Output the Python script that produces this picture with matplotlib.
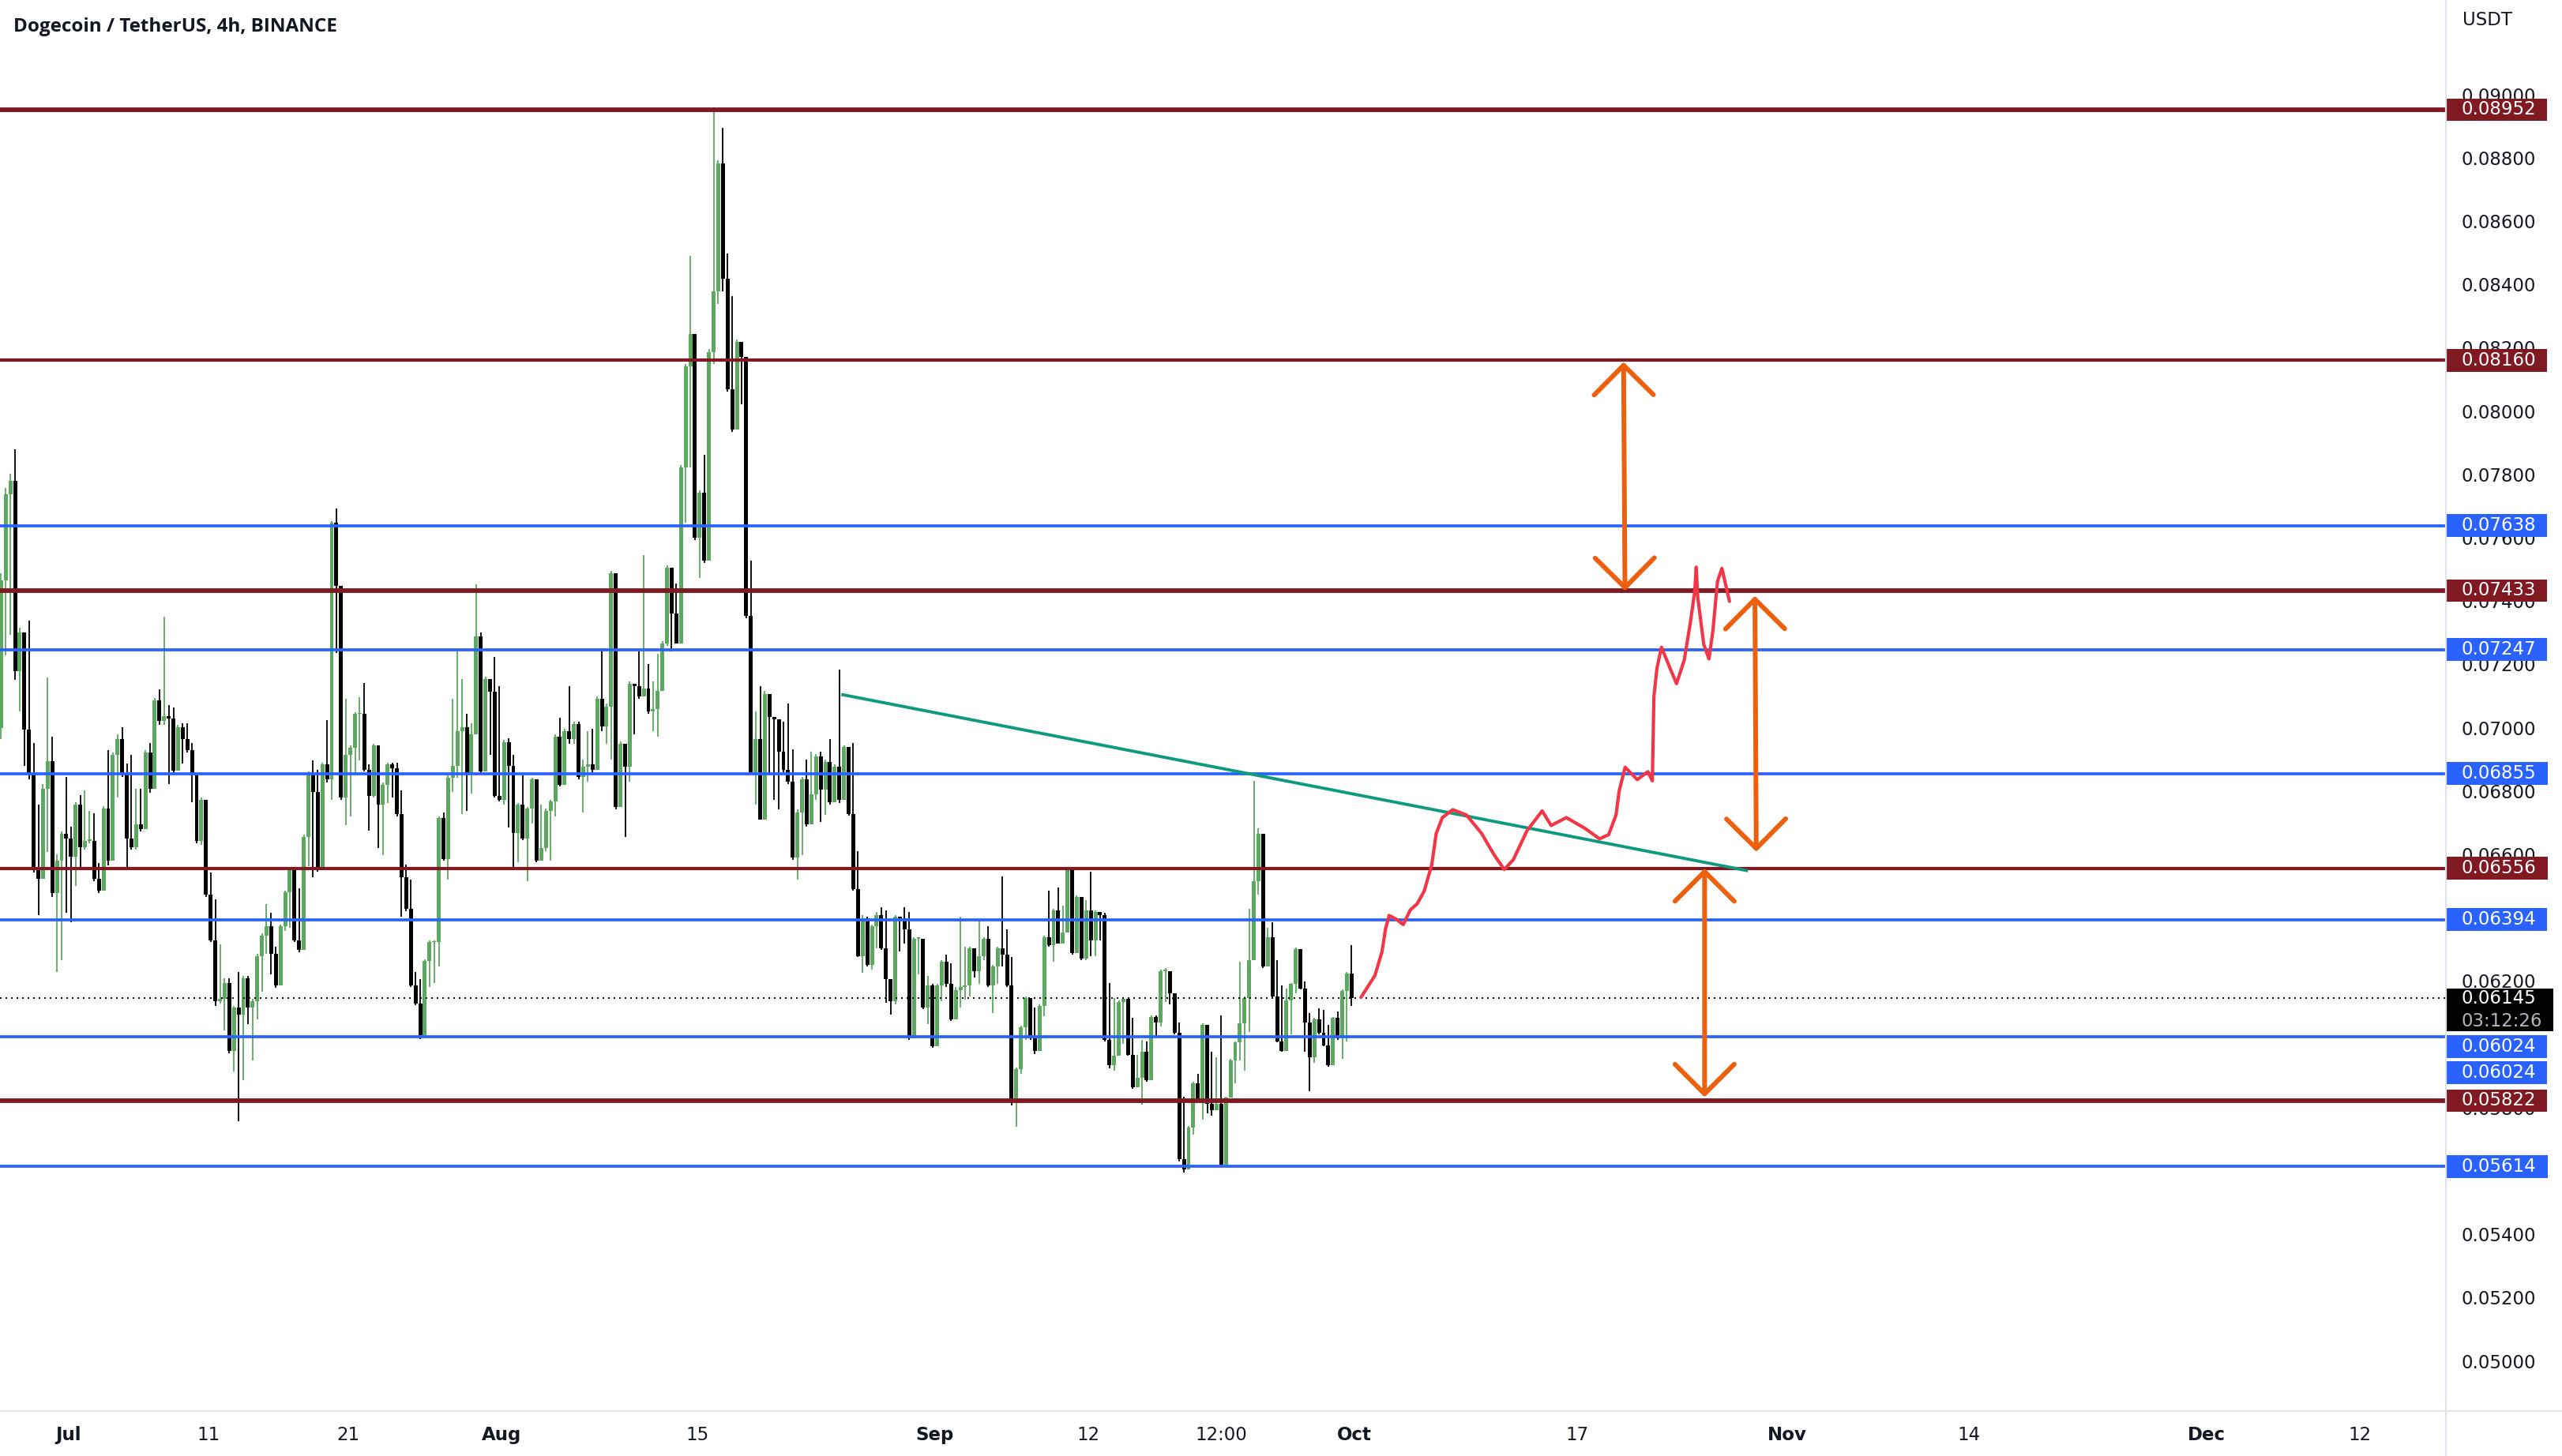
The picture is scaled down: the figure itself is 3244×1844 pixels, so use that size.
import numpy as np
import pandas as pd
import matplotlib
matplotlib.use("Agg")
import matplotlib.pyplot as plt
import matplotlib.transforms as mtransforms
from matplotlib.path import Path
from matplotlib.patches import FancyArrowPatch, ArrowStyle
from matplotlib.lines import Line2D

# DOGE/USDT bars (8h)
bar_start = "2022-06-26 04:00"
first_open = 0.07000
close = [
    .07465, .07737, .07780, .07179, .07301, .06994, .06851, .06558, .06522, .06808,
    .06894, .06479, .06579, .06665, .06651, .06593, .06758, .06622, .06643, .06643,
    .06522, .06486, .06744, .06579, .06915, .06965, .06851, .06651, .06622, .06694,
    .06679, .06922, .06808, .07086, .07022, .07036, .07029, .06865, .07001, .06965,
    .06929, .06851, .06643, .06772, .06472, .06329, .06136, .06143, .06193, .05979,
    .06115, .06093, .06208, .06115, .06136, .06279, .06343, .06372, .06286, .06186,
    .06372, .06480, .06550, .06328, .06298, .06656, .06855, .06797, .06550, .06885,
    .06838, .07647, .07447, .06779, .06914, .06937, .07043, .07043, .06867, .06785,
    .06943, .06756, .06820, .06885, .06873, .06726, .06527, .06427, .06187, .06128,
    .06029, .06263, .06322, .06322, .06714, .06586, .06843, .06879, .06990, .07002,
    .06855, .06978, .07289, .06861, .07154, .07113, .06785, .06773, .06955, .06879,
    .06668, .06756, .06650, .06744, .06838, .06580, .06621, .06738, .06767, .06972,
    .06820, .06990, .06964, .07011, .06844, .06876, .06884, .06868, .07091, .07003,
    .07067, .07488, .06749, .06948, .06876, .07139, .07131, .07099, .07123, .07051,
    .07059, .07115, .07266, .07504, .07361, .07266, .07822, .08140, .08243, .07600,
    .07742, .07528, .08187, .08378, .08783, .08418, .08068, .07941, .08219, .08172,
    .07353, .06860, .06964, .06709, .07107, .07035, .07027, .06924, .06868, .06829,
    .06590, .06733, .06836, .06694, .06789, .06908, .06805, .06892, .06765, .06876,
    .06771, .06938, .06727, .06491, .06279, .06397, .06250, .06373, .06407, .06304,
    .06206, .06137, .06402, .06397, .06363, .06019, .06333, .06333, .06117, .06186,
    .05995, .06186, .06260, .06191, .06078, .06171, .06181, .06186, .06304, .06230,
    .06279, .06333, .06186, .06245, .06304, .06284, .06186, .05818, .05921, .06053,
    .06147, .06019, .05980, .06122, .06338, .06314, .06422, .06319, .06353, .06550,
    .06289, .06466, .06270, .06422, .06329, .06417, .06407, .06015, .05933, .05963,
    .06134, .06143, .05967, .05865, .05895, .05976, .05886, .06087, .06070, .06232,
    .06232, .06160, .06036, .05638, .05604, .05736, .05877, .05822, .06061, .05813,
    .05792, .05813, .05621, .05831, .05950, .06006, .06066, .06147, .06267, .06515,
    .06664, .06245, .06339, .06151, .06010, .05980, .06138, .06190, .06301, .06177,
    .06070, .05959, .06079, .06036, .05997, .05933, .06083, .06019, .06168, .06224,
    .06145,
]
high = [
    .07487, .07758, .07801, .07880, .07315, .07287, .07337, .06951, .06758, .06822,
    .07158, .06972, .06601, .06672, .06844, .06686, .06765, .06786, .06801, .06736,
    .06729, .06572, .06751, .06929, .06922, .06979, .07001, .06886, .06915, .06808,
    .06808, .06929, .06951, .07094, .07122, .07351, .07072, .07065, .07008, .07015,
    .07015, .06951, .06844, .06779, .06729, .06543, .06458, .06315, .06208, .06208,
    .06122, .06229, .06215, .06215, .06143, .06286, .06351, .06443, .06415, .06308,
    .06379, .06486, .06556, .06474, .06492, .06662, .06861, .06896, .06867, .06890,
    .07025, .07652, .07693, .07389, .07090, .06943, .07049, .07096, .07142, .06885,
    .06949, .06920, .06826, .06890, .06890, .06890, .06803, .06568, .06521, .06228,
    .06205, .06269, .06328, .06328, .06720, .06732, .06849, .07090, .07242, .07154,
    .07043, .07013, .07453, .07301, .07160, .07119, .07224, .07131, .06961, .06967,
    .06914, .06761, .06849, .06750, .06843, .06820, .06756, .06744, .06773, .06978,
    .07031, .06996, .07131, .07019, .07019, .06900, .06988, .06996, .07099, .07250,
    .07075, .07496, .07329, .06956, .06900, .07147, .07139, .07242, .07544, .07202,
    .07147, .07234, .07274, .07512, .07377, .07456, .07830, .08148, .08489, .08203,
    .07750, .07862, .08195, .08958, .08791, .08895, .08497, .08362, .08227, .08180,
    .08140, .07528, .07051, .07131, .07115, .07059, .07035, .06972, .07019, .07075,
    .06932, .06741, .06844, .06900, .06924, .06916, .06924, .06900, .06964, .06884,
    .07183, .06943, .06938, .06952, .06609, .06407, .06402, .06378, .06417, .06432,
    .06422, .06191, .06407, .06402, .06432, .06417, .06338, .06338, .06329, .06216,
    .06191, .06191, .06265, .06284, .06255, .06181, .06402, .06309, .06309, .06304,
    .06392, .06338, .06373, .06250, .06309, .06530, .06363, .06275, .05926, .06058,
    .06152, .06132, .06117, .06127, .06343, .06486, .06427, .06496, .06437, .06555,
    .06530, .06471, .06466, .06456, .06545, .06422, .06412, .06416, .06194, .06147,
    .06138, .06147, .06121, .06083, .05967, .06014, .06010, .06091, .06091, .06237,
    .06241, .06224, .06138, .06070, .05835, .05741, .05882, .05907, .06066, .06040,
    .05976, .05959, .06091, .05835, .05955, .06010, .06262, .06151, .06429, .06831,
    .06682, .06626, .06369, .06386, .06267, .06185, .06177, .06194, .06305, .06297,
    .06198, .06100, .06083, .06113, .06108, .06061, .06087, .06104, .06173, .06228,
    .06314,
]
low = [
    .06965, .07229, .07294, .07151, .07051, .06879, .06836, .06543, .06408, .06543,
    .06608, .06465, .06229, .06265, .06415, .06386, .06501, .06558, .06615, .06636,
    .06515, .06479, .06536, .06565, .06601, .06779, .06844, .06551, .06615, .06615,
    .06672, .06686, .06794, .06822, .07008, .07008, .06822, .06858, .06886, .06886,
    .06922, .06765, .06636, .06629, .06465, .06322, .06122, .06129, .06043, .05972,
    .05915, .05757, .05886, .06065, .05950, .06079, .06165, .06286, .06222, .06179,
    .06201, .06357, .06369, .06322, .06292, .06304, .06562, .06527, .06544, .06580,
    .06826, .06773, .07236, .06773, .06691, .06720, .06849, .06896, .06861, .06674,
    .06779, .06621, .06597, .06761, .06779, .06720, .06404, .06421, .06181, .06123,
    .06017, .06023, .06181, .06193, .06246, .06580, .06521, .06797, .06843, .06726,
    .06738, .06791, .06978, .06855, .06902, .06914, .06779, .06767, .06756, .06685,
    .06550, .06574, .06644, .06515, .06697, .06574, .06615, .06609, .06580, .06720,
    .06814, .06849, .06948, .06948, .06836, .06733, .06829, .06860, .06884, .06988,
    .06948, .06900, .06741, .06813, .06654, .06829, .06980, .07091, .07107, .07043,
    .06988, .06972, .07147, .07258, .07242, .07266, .07266, .07647, .07822, .07592,
    .07472, .07520, .07615, .08148, .08338, .08378, .08060, .07933, .07957, .08021,
    .07345, .06852, .06757, .06709, .06860, .06852, .06773, .06741, .06860, .06821,
    .06582, .06519, .06598, .06686, .06781, .06773, .06701, .06725, .06757, .06829,
    .06761, .06790, .06722, .06486, .06275, .06225, .06245, .06235, .06304, .06299,
    .06132, .06093, .06127, .06294, .06319, .06014, .06132, .06221, .06112, .06063,
    .05989, .06024, .06137, .06181, .06073, .06098, .06117, .06142, .06152, .06211,
    .06191, .06265, .06181, .06098, .06191, .06245, .06181, .05808, .05739, .05906,
    .06014, .06014, .05970, .06014, .06088, .06309, .06260, .06319, .06338, .06378,
    .06284, .06358, .06265, .06265, .06279, .06279, .06329, .06010, .05925, .05916,
    .05980, .06002, .05963, .05860, .05869, .05809, .05882, .05967, .06023, .06057,
    .06134, .06126, .06031, .05629, .05595, .05612, .05715, .05818, .05762, .05783,
    .05775, .05809, .05612, .05689, .05852, .05877, .05950, .05916, .06040, .06284,
    .06472, .06241, .06245, .06147, .06006, .05976, .06006, .06031, .06160, .06173,
    .05976, .05852, .05942, .06031, .05993, .05929, .05967, .06014, .05955, .06010,
    .06121,
]

red_levels = [0.08952, 0.08160, 0.07433, 0.06556, 0.05822]
blue_levels = [0.07638, 0.07247, 0.06855, 0.06394, 0.06024, 0.05614]
last_price = 0.06145
countdown = "03:12:26"

tick_dates = ["2022-07-01", "2022-07-11", "2022-07-21", "2022-08-01", "2022-08-15",
              "2022-09-01", "2022-09-12", "2022-09-21 12:00", "2022-10-01",
              "2022-10-17", "2022-11-01", "2022-11-14", "2022-12-01", "2022-12-12"]
tick_labels = ["Jul", "11", "21", "Aug", "15", "Sep", "12", "12:00", "Oct",
               "17", "Nov", "14", "Dec", "12"]
month_labels = {"Jul", "Aug", "Sep", "Oct", "Nov", "Dec"}
# ticks whose labels are not hidden behind a price tag
price_ticks = [0.050, 0.052, 0.054, 0.058, 0.062, 0.066, 0.068, 0.070, 0.072,
               0.074, 0.076, 0.078, 0.080, 0.082, 0.084, 0.086, 0.088, 0.090]

# drawings (x = days after Jul 1)
trend_day = [55.3, 120.2]
trend_price = [0.07105, 0.06548]

proj_day = [92.5, 93.5, 94.0, 94.27, 94.52, 95.03, 95.53, 96.03, 96.53, 97.03,
            97.57, 97.89, 98.33, 99.08, 100.06, 101.14, 102.01, 102.76, 103.41, 104.38,
            105.47, 106.12, 107.2, 108.5, 109.58, 110.23, 110.76, 110.98, 111.41, 112.28,
            113.04, 113.36, 113.47, 113.69, 114.01, 114.55, 115.09, 115.64, 116.07, 116.39,
            116.5, 116.61, 117.04, 117.41, 117.69, 118.02, 118.34, 118.56, 118.88]
proj_price = [0.06148, 0.06217, 0.06291, 0.06366, 0.06407, 0.06395, 0.06378, 0.06424, 0.06444, 0.06484,
              0.06567, 0.06666, 0.06716, 0.06741, 0.06724, 0.06666, 0.06600, 0.06552, 0.06583, 0.06674,
              0.06737, 0.06691, 0.06716, 0.06683, 0.06649, 0.06662, 0.06724, 0.06799, 0.06875, 0.06836,
              0.06861, 0.06832, 0.07097, 0.07188, 0.07254, 0.07196, 0.07139, 0.07213, 0.07329, 0.07428,
              0.07507, 0.07412, 0.07263, 0.07217, 0.07304, 0.07461, 0.07503, 0.07461, 0.07399]

arrow_day = [(111.3, 111.4), (120.7, 120.8), (117.1, 117.1)]
arrow_price = [(0.08155, 0.07432), (0.07416, 0.06608), (0.06556, 0.05833)]

# colours
GREEN = "#5aa95e"
RED_LINE = "#801922"
BLUE = "#2962ff"
TEXT = "#131722"
SEP = "#e0e3eb"
ORANGE = "#ec5f0c"
PROJ = "#f23645"
TREND = "#0f9a7e"

W, H = 3244, 1844
ax_right, ax_bottom = 3097, 1787

plt.rcParams["font.family"] = "DejaVu Sans"
fig = plt.figure(figsize=(W / 100, H / 100), dpi=100)
fig.patch.set_facecolor("white")
ax = fig.add_axes([0, 1 - ax_bottom / H, ax_right / W, ax_bottom / H])
ax.set_xlim(-4.91, 170.16)
ax.set_ylim(0.04842, 0.09298)
for s in ax.spines.values():
    s.set_visible(False)

t0 = pd.Timestamp("2022-07-01")
times = pd.date_range(bar_start, periods=len(close), freq="8h")
x = ((times - t0) / pd.Timedelta("1D")).to_numpy()

c = np.array(close)
o = np.r_[first_open, c[:-1]]
h = np.maximum.reduce([np.array(high), o, c])
l = np.minimum.reduce([np.array(low), o, c])
cols = np.where(c >= o, GREEN, "black")

ax.vlines(x, l, h, colors=cols, linewidth=1.3, zorder=1)
body = np.maximum(np.abs(c - o), 0.00004)
ax.bar(x, body, bottom=np.minimum(o, c), width=0.28, color=cols, linewidth=0, zorder=1)

heavy = [True, False, True, False, True]
for lev, hv in zip(red_levels, heavy):
    ax.axhline(lev, color=RED_LINE, lw=4.2 if hv else 3.0, zorder=3)
for lev in blue_levels:
    ax.axhline(lev, color=BLUE, lw=2.7, zorder=3)
ax.axhline(last_price, color="black", lw=1.4, ls=(0, (1, 2.6)), zorder=3)

ax.plot(trend_day, trend_price, color=TREND, lw=2.8, solid_capstyle="butt", zorder=4)
ax.plot(proj_day, proj_price, color=PROJ, lw=3.0, solid_joinstyle="round",
        solid_capstyle="round", zorder=4)

for (d0, d1), (p0, p1) in zip(arrow_day, arrow_price):
    arr = FancyArrowPatch((d0, p0), (d1, p1),
                          arrowstyle=ArrowStyle("<->", head_length=1.0, head_width=1.0),
                          mutation_scale=27, lw=4.3, color=ORANGE,
                          shrinkA=0, shrinkB=0, zorder=5)
    ax.add_patch(arr)

# axes ticks
tick_x = [(pd.Timestamp(d) - t0) / pd.Timedelta("1D") for d in tick_dates]
ax.set_xticks(tick_x)
ax.set_xticklabels(tick_labels)
ax.tick_params(axis="x", length=0, pad=13.5, labelsize=16.5, labelcolor=TEXT)
for lab in ax.get_xticklabels():
    if lab.get_text() in month_labels:
        lab.set_fontweight("bold")

ax.yaxis.tick_right()
ax.set_yticks(price_ticks)
ax.set_yticklabels([f"{v:.5f}" for v in price_ticks])
ax.tick_params(axis="y", length=0, pad=14.4, labelsize=16.5, labelcolor=TEXT)

# separators
fig.add_artist(Line2D([ax_right / W] * 2, [0, 1], transform=fig.transFigure, color=SEP, lw=1.6))
fig.add_artist(Line2D([0, 1], [1 - ax_bottom / H] * 2, transform=fig.transFigure, color=SEP, lw=1.6))


def tag_box(x0, y0, width, height, mutation_size):
    left = x0 - 0.9 * mutation_size
    right = x0 + width + 0.6 * mutation_size
    bot = y0 - 0.12 * mutation_size
    top = y0 + height + 0.12 * mutation_size
    return Path([(left, bot), (right, bot), (right, top), (left, top), (left, bot)], closed=True)


trans = mtransforms.blended_transform_factory(ax.transAxes, ax.transData)


def tag(txt, price, fc, dy=0, color="white", **kw):
    ax.annotate(txt, xy=(1, price), xycoords=trans, xytext=(14.4, dy),
                textcoords="offset points", ha="left", va="center",
                fontsize=16.5, color=color, annotation_clip=False, zorder=6,
                bbox=dict(boxstyle=tag_box, fc=fc, ec="none") if fc else None, **kw)


for lev in red_levels:
    tag(f"{lev:.5f}", lev, RED_LINE)
for lev in blue_levels:
    if lev == 0.06024:
        tag(f"{lev:.5f}", lev, BLUE, dy=-9)
        tag(f"{lev:.5f}", lev, BLUE, dy=-32.6)
    else:
        tag(f"{lev:.5f}", lev, BLUE)

tag(f"{last_price:.5f}\n{countdown}", last_price, "black", dy=-10.5,
    color=(0, 0, 0, 0), linespacing=1.09)
tag(f"{last_price:.5f}", last_price, None, dy=0)
tag(countdown, last_price, None, dy=-21, color="#b2b5be")

fig.text(17 / W, 1 - 34 / H, "Dogecoin / TetherUS, 4h, BINANCE", fontfamily="Open Sans",
         fontweight="bold", fontsize=17.5, va="center", color=TEXT)
fig.text(3118 / W, 1 - 26 / H, "USDT", fontsize=16.5, va="center", color=TEXT)

fig.savefig("out.png", dpi=100, facecolor="white")
